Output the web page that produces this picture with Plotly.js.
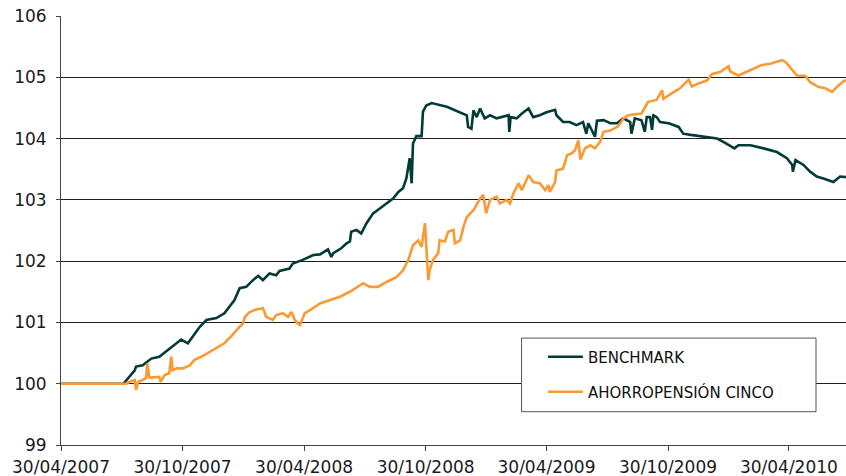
<!DOCTYPE html>
<html>
<head>
<meta charset="utf-8">
<script src="https://cdn.plot.ly/plotly-3.0.1.min.js"></script>
<style>html,body{margin:0;padding:0;background:#fff;}#chart{width:846px;height:476px;}</style>
</head>
<body>
<div id="chart"></div>
<script>
// ---- data ----
const benchDates = ["2007-04-30","2007-08-02","2007-08-19","2007-08-21","2007-08-31","2007-09-13","2007-09-25","2007-10-08","2007-10-21","2007-10-28","2007-11-07","2007-11-17","2007-11-25","2007-12-05","2007-12-20","2008-01-01","2008-01-09","2008-01-16","2008-01-24","2008-02-03","2008-02-13","2008-02-21","2008-02-28","2008-03-09","2008-03-19","2008-03-24","2008-04-08","2008-04-13","2008-04-28","2008-05-14","2008-05-24","2008-06-05","2008-06-10","2008-06-13","2008-06-25","2008-07-03","2008-07-08","2008-07-10","2008-07-18","2008-07-25","2008-08-02","2008-08-12","2008-08-22","2008-09-01","2008-09-11","2008-09-19","2008-09-26","2008-10-01","2008-10-04","2008-10-06","2008-10-09","2008-10-10","2008-10-11","2008-10-16","2008-10-24","2008-10-26","2008-10-31","2008-11-08","2008-12-01","2008-12-31","2009-01-02","2009-01-07","2009-01-10","2009-01-15","2009-01-20","2009-01-27","2009-02-04","2009-02-14","2009-02-21","2009-03-04","2009-03-05","2009-03-07","2009-03-16","2009-03-24","2009-04-03","2009-04-10","2009-04-20","2009-04-30","2009-05-13","2009-05-15","2009-05-25","2009-06-04","2009-06-14","2009-06-24","2009-06-29","2009-07-02","2009-07-12","2009-07-15","2009-07-25","2009-08-04","2009-08-14","2009-08-24","2009-09-03","2009-09-05","2009-09-10","2009-09-20","2009-09-25","2009-09-28","2009-10-03","2009-10-06","2009-10-08","2009-10-13","2009-10-18","2009-10-31","2009-11-15","2009-11-22","2009-12-03","2009-12-18","2010-01-12","2010-01-24","2010-02-07","2010-02-13","2010-03-03","2010-03-23","2010-04-12","2010-04-27","2010-05-05","2010-05-06","2010-05-10","2010-05-22","2010-06-01","2010-06-11","2010-06-21","2010-07-06","2010-07-16","2010-07-25"];
const benchValues = [100.00,100.00,100.22,100.28,100.30,100.41,100.44,100.55,100.66,100.72,100.66,100.82,100.93,101.04,101.07,101.15,101.26,101.36,101.56,101.58,101.69,101.76,101.69,101.80,101.77,101.84,101.88,101.96,102.02,102.10,102.11,102.19,102.07,102.13,102.21,102.29,102.32,102.48,102.51,102.45,102.62,102.78,102.86,102.94,103.02,103.13,103.19,103.35,103.57,103.68,103.27,103.70,103.92,104.04,104.04,104.44,104.54,104.58,104.52,104.38,104.19,104.16,104.46,104.35,104.49,104.33,104.38,104.33,104.35,104.38,104.11,104.35,104.33,104.41,104.49,104.35,104.38,104.43,104.47,104.38,104.27,104.27,104.22,104.27,104.08,104.25,104.03,104.29,104.30,104.25,104.25,104.33,104.27,104.08,104.33,104.30,104.11,104.35,104.35,104.14,104.38,104.35,104.27,104.25,104.19,104.08,104.06,104.04,104.00,103.93,103.84,103.89,103.89,103.84,103.78,103.68,103.57,103.46,103.65,103.57,103.46,103.38,103.35,103.29,103.38,103.37];

const fundDates = ["2007-04-30","2007-08-06","2007-08-11","2007-08-19","2007-08-21","2007-08-24","2007-08-31","2007-09-05","2007-09-07","2007-09-10","2007-09-25","2007-09-27","2007-10-03","2007-10-10","2007-10-13","2007-10-15","2007-10-21","2007-10-30","2007-11-10","2007-11-17","2007-11-27","2007-12-07","2007-12-20","2008-01-01","2008-01-11","2008-01-19","2008-01-24","2008-01-29","2008-02-01","2008-02-08","2008-02-18","2008-02-28","2008-03-04","2008-03-14","2008-03-19","2008-03-29","2008-04-06","2008-04-11","2008-04-16","2008-04-21","2008-04-24","2008-05-01","2008-05-09","2008-05-24","2008-06-08","2008-06-23","2008-07-08","2008-07-28","2008-08-07","2008-08-19","2008-09-01","2008-09-16","2008-09-26","2008-10-04","2008-10-11","2008-10-19","2008-10-24","2008-10-29","2008-11-03","2008-11-05","2008-11-10","2008-11-18","2008-11-20","2008-11-28","2008-12-03","2008-12-11","2008-12-13","2008-12-21","2008-12-26","2008-12-31","2009-01-10","2009-01-20","2009-01-25","2009-01-29","2009-02-04","2009-02-14","2009-02-19","2009-03-01","2009-03-06","2009-03-11","2009-03-19","2009-03-24","2009-04-03","2009-04-10","2009-04-20","2009-04-28","2009-05-03","2009-05-05","2009-05-13","2009-05-15","2009-05-25","2009-05-31","2009-06-07","2009-06-12","2009-06-17","2009-06-20","2009-06-27","2009-07-05","2009-07-12","2009-07-20","2009-07-25","2009-08-04","2009-08-16","2009-08-24","2009-08-31","2009-09-10","2009-09-20","2009-09-30","2009-10-13","2009-10-21","2009-10-23","2009-11-05","2009-11-17","2009-11-30","2009-12-05","2009-12-15","2009-12-28","2010-01-04","2010-01-17","2010-01-29","2010-02-01","2010-02-13","2010-02-26","2010-03-08","2010-03-20","2010-04-02","2010-04-12","2010-04-20","2010-04-25","2010-05-05","2010-05-12","2010-05-25","2010-06-01","2010-06-14","2010-06-24","2010-07-04","2010-07-14","2010-07-22","2010-07-25"];
const fundValues = [100.00,100.00,100.03,100.06,99.90,100.03,100.06,100.09,100.33,100.10,100.11,100.03,100.14,100.17,100.44,100.22,100.25,100.25,100.30,100.39,100.44,100.50,100.58,100.66,100.77,100.88,100.93,100.98,101.09,101.17,101.21,101.23,101.09,101.04,101.12,101.15,101.09,101.17,101.04,100.98,100.96,101.15,101.20,101.31,101.36,101.42,101.50,101.64,101.58,101.58,101.66,101.74,101.85,102.02,102.26,102.34,102.23,102.62,101.69,101.85,102.02,102.13,102.34,102.32,102.48,102.51,102.29,102.34,102.56,102.72,102.83,103.02,103.08,102.78,103.00,103.05,102.94,103.00,102.94,103.10,103.27,103.16,103.40,103.29,103.27,103.16,103.24,103.13,103.29,103.48,103.51,103.73,103.76,103.81,103.97,103.66,103.84,103.89,103.84,103.95,104.11,104.13,104.20,104.33,104.38,104.40,104.41,104.60,104.63,104.79,104.65,104.74,104.82,104.96,104.85,104.90,104.95,105.05,105.09,105.18,105.09,105.03,105.09,105.14,105.20,105.22,105.25,105.28,105.25,105.11,105.03,105.02,104.92,104.84,104.82,104.76,104.87,104.94,104.95];

const seriesNames = ["BENCHMARK", "AHORROPENSIÓN CINCO"];
const tickDates = ["2007-04-30","2007-10-30","2008-04-30","2008-10-30","2009-04-30","2009-10-30","2010-04-30"];
const tickLabels = ["30/04/2007","30/10/2007","30/04/2008","30/10/2008","30/04/2009","30/10/2009","30/04/2010"];
const yTicks = [99,100,101,102,103,104,105,106];

// ---- chart ----
const FONT = "DejaVu Sans, Verdana, sans-serif";
const traces = [
  {x: benchDates, y: benchValues, name: seriesNames[0], type: "scatter", mode: "lines",
   line: {color: "#033b36", width: 2.6}, legend: "legend"},
  {x: fundDates, y: fundValues, name: seriesNames[1], type: "scatter", mode: "lines",
   line: {color: "#fa9a32", width: 2.6}, legend: "legend2"}
];

const legendCommon = {
  bgcolor: "rgba(0,0,0,0)", borderwidth: 0,
  font: {family: FONT, size: 15, color: "#111"},
  xanchor: "left", yanchor: "middle", itemwidth: 35
};

const layout = {
  width: 846, height: 476,
  margin: {l: 61, r: 0, t: 16, b: 31},
  paper_bgcolor: "#fff", plot_bgcolor: "#fff",
  font: {family: FONT, size: 17, color: "#1a1a1a"},
  showlegend: true,
  xaxis: {
    type: "date", range: ["2007-04-30", "2010-07-25"],
    tickmode: "array", tickvals: tickDates, ticktext: tickLabels,
    showgrid: false, zeroline: false,
    showline: true, linecolor: "#444", linewidth: 1,
    ticks: "outside", ticklen: 5, tickcolor: "#444", tickwidth: 1,
    ticklabelstandoff: 2,
    tickfont: {family: FONT, size: 17, color: "#1a1a1a"},
    fixedrange: true
  },
  yaxis: {
    range: [99, 106], tickmode: "array", tickvals: yTicks,
    showgrid: true, gridcolor: "#1e1e1e", gridwidth: 1,
    zeroline: false, showline: true, linecolor: "#444", linewidth: 1,
    ticks: "outside", ticklen: 4, tickcolor: "#444",
    ticklabelstandoff: 6,
    tickfont: {family: FONT, size: 17, color: "#1a1a1a"},
    fixedrange: true
  },
  shapes: [{
    type: "rect", xref: "paper", yref: "paper",
    x0: 0.5867, x1: 0.9618, y0: 0.0776, y1: 0.2492,
    fillcolor: "#fff", line: {color: "#555", width: 1}, layer: "above"
  }],
  legend: Object.assign({x: 0.6139, y: 0.205}, legendCommon),
  legend2: Object.assign({x: 0.6139, y: 0.1235}, legendCommon),
  hovermode: false
};

Plotly.newPlot("chart", traces, layout, {displayModeBar: false, staticPlot: true});
</script>
</body>
</html>
